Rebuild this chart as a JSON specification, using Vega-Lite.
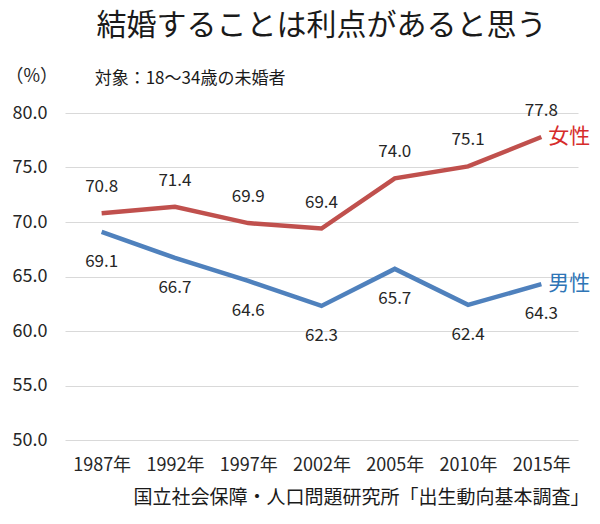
{
  "$schema": "https://vega.github.io/schema/vega-lite/v6.json",
  "width": 513,
  "height": 327,
  "autosize": {"type": "none"},
  "padding": {"left": 65, "top": 113, "right": 22, "bottom": 84},
  "background": "white",
  "config": {"font": "Noto Sans CJK JP", "view": {"stroke": null}},
  "title": {"text": "結婚することは利点があると思う", "fontSize": 30, "fontWeight": "normal", "color": "#1a1a1a", "anchor": "middle", "offset": 26},
  "data": {"values": [
    {"year": "1987年", "series": "女性", "value": 70.8},
    {"year": "1992年", "series": "女性", "value": 71.4},
    {"year": "1997年", "series": "女性", "value": 69.9},
    {"year": "2002年", "series": "女性", "value": 69.4},
    {"year": "2005年", "series": "女性", "value": 74.0},
    {"year": "2010年", "series": "女性", "value": 75.1},
    {"year": "2015年", "series": "女性", "value": 77.8},
    {"year": "1987年", "series": "男性", "value": 69.1},
    {"year": "1992年", "series": "男性", "value": 66.7},
    {"year": "1997年", "series": "男性", "value": 64.6},
    {"year": "2002年", "series": "男性", "value": 62.3},
    {"year": "2005年", "series": "男性", "value": 65.7},
    {"year": "2010年", "series": "男性", "value": 62.4},
    {"year": "2015年", "series": "男性", "value": 64.3}
  ]},
  "encoding": {
    "x": {"field": "year", "type": "ordinal", "sort": null, "scale": {"type": "point", "padding": 0.5},
      "axis": {"title": "国立社会保障・人口問題研究所「出生動向基本調査」", "titleFontSize": 19, "titleFontWeight": "normal", "titleColor": "#1a1a1a", "titleAlign": "right", "titleAnchor": null, "titleX": 524, "titleY": 57, "titleBaseline": "middle",
        "labelAngle": 0, "labelFontSize": 18, "labelColor": "#262626", "labelPadding": 16, "ticks": false, "domain": false, "grid": false}},
    "y": {"field": "value", "type": "quantitative", "scale": {"domain": [50, 80], "nice": false, "zero": false},
      "axis": {"title": "（%）", "titleAngle": 0, "titleAlign": "left", "titleBaseline": "middle", "titleX": -60, "titleY": -37, "titleFontSize": 18, "titleFontWeight": "normal", "titleColor": "#262626",
        "values": [50, 55, 60, 65, 70, 75, 80], "format": ".1f", "labelFontSize": 18, "labelColor": "#262626", "labelPadding": 18, "ticks": false, "domain": false, "grid": true, "gridColor": "#d9d9d9", "gridWidth": 1}}
  },
  "layer": [
    {"mark": {"type": "line", "strokeWidth": 4.5},
      "encoding": {"color": {"field": "series", "type": "nominal", "scale": {"domain": ["女性", "男性"], "range": ["#C0504D", "#4F81BD"]}, "legend": null}}},
    {"transform": [{"filter": "datum.series === '女性'"}],
      "mark": {"type": "text", "dy": -26, "fontSize": 17, "color": "#262626"},
      "encoding": {"text": {"field": "value", "type": "quantitative", "format": ".1f"}}},
    {"transform": [{"filter": "datum.series === '男性'"}],
      "mark": {"type": "text", "dy": 30, "fontSize": 17, "color": "#262626"},
      "encoding": {"text": {"field": "value", "type": "quantitative", "format": ".1f"}}},
    {"transform": [{"filter": "datum.year === '2015年'"}],
      "mark": {"type": "text", "align": "left", "dx": 7, "fontSize": 21},
      "encoding": {"text": {"field": "series", "type": "nominal"},
        "color": {"field": "series", "type": "nominal", "scale": {"domain": ["女性", "男性"], "range": ["#D62B2B", "#2E75B6"]}, "legend": null}}},
    {"data": {"values": [{"note": "対象：18〜34歳の未婚者", "year": "1987年", "value": 83.1}]},
      "mark": {"type": "text", "align": "left", "dx": -7, "fontSize": 17, "color": "#1a1a1a"},
      "encoding": {"text": {"field": "note", "type": "nominal"}}}
  ],
  "resolve": {"scale": {"color": "independent"}}
}
